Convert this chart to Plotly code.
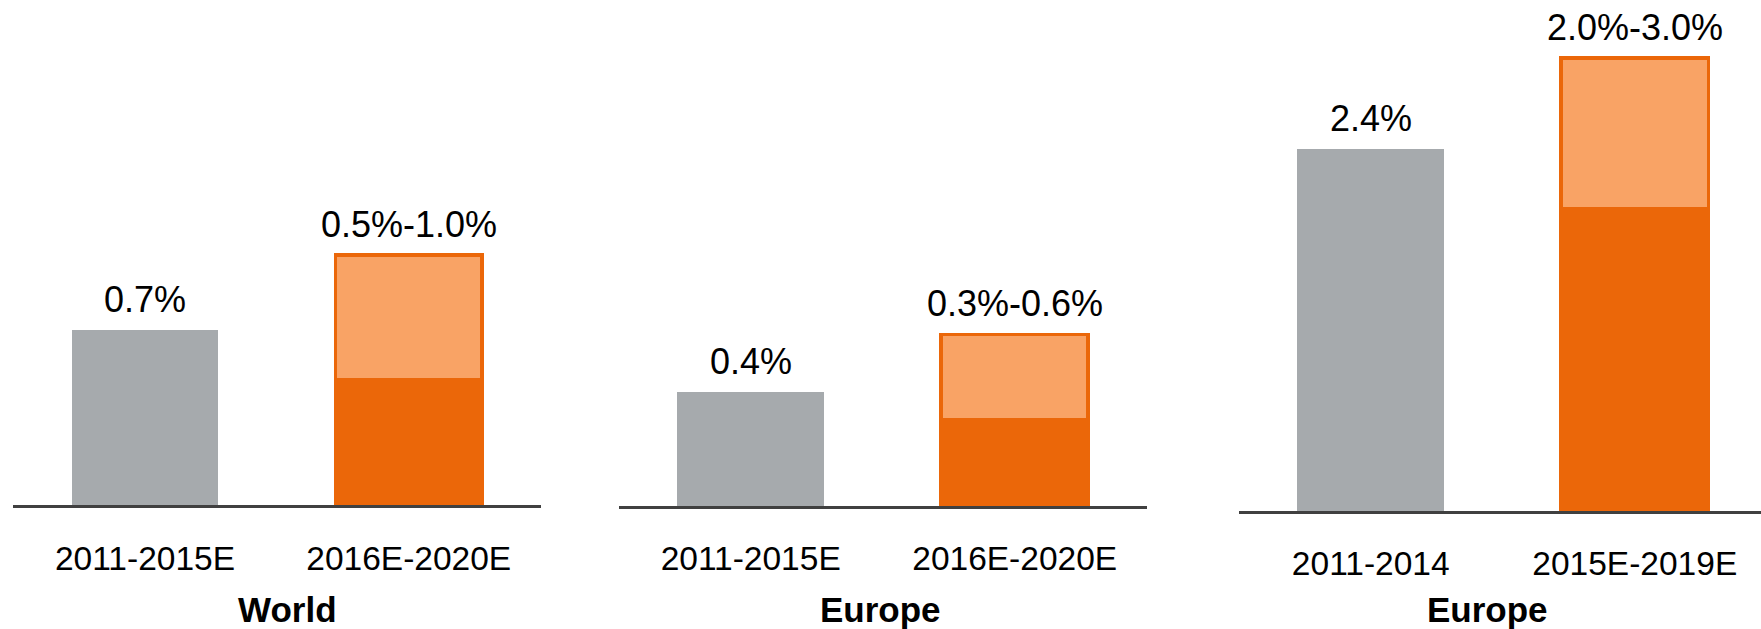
import plotly.graph_objects as go

# ---- data ----
panel_titles = ["World", "Europe", "Europe"]
categories = [
    ["2011-2015E", "2016E-2020E"],
    ["2011-2015E", "2016E-2020E"],
    ["2011-2014", "2015E-2019E"],
]
historic_values = [0.7, 0.4, 2.4]
forecast_low = [0.5, 0.3, 2.0]
forecast_high = [1.0, 0.6, 3.0]
historic_labels = ["0.7%", "0.4%", "2.4%"]
forecast_labels = ["0.5%-1.0%", "0.3%-0.6%", "2.0%-3.0%"]

# ---- style ----
W, H = 1761, 629
FONT = "Liberation Sans, Arial, sans-serif"
GREY = "#A6AAAD"
DARK_OR = "#EB6709"
LIGHT_OR = "#F9A365"
AXIS = "#404040"

x_domains = [(13.1 / W, 540.6 / W), (618.7 / W, 1146.7 / W), (1238.7 / W, 1.0)]
x_ranges = [[-0.5, 1.5], [-0.5, 1.5], [-0.5, 1.478]]
y_bottom_px = [505.3, 506.0, 511.0]
px_per_unit = [250.5, 286.0, 151.0]
title_x_px = [287.5, 881.0, 1487.0]
BAR_W = 0.557

fig = go.Figure()
layout = dict(
    width=W, height=H,
    margin=dict(l=0, r=0, t=0, b=0),
    paper_bgcolor="white", plot_bgcolor="white",
    barmode="stack", showlegend=False,
    font=dict(family=FONT, color="black"),
    annotations=[],
)

for i in range(3):
    xa = "x" if i == 0 else f"x{i+1}"
    ya = "y" if i == 0 else f"y{i+1}"
    cats = categories[i]
    fig.add_trace(go.Bar(
        x=[cats[0]], y=[historic_values[i]], xaxis=xa, yaxis=ya,
        marker=dict(color=GREY, line=dict(width=0)), width=BAR_W,
        hoverinfo="skip",
    ))
    fig.add_trace(go.Bar(
        x=[cats[1]], y=[forecast_low[i]], xaxis=xa, yaxis=ya,
        marker=dict(color=DARK_OR, line=dict(width=3.5, color=DARK_OR)), width=BAR_W,
        hoverinfo="skip",
    ))
    fig.add_trace(go.Bar(
        x=[cats[1]], y=[forecast_high[i] - forecast_low[i]], xaxis=xa, yaxis=ya,
        marker=dict(color=LIGHT_OR, line=dict(width=3.5, color=DARK_OR)), width=BAR_W,
        hoverinfo="skip",
    ))
    ybot = y_bottom_px[i]
    ytop_val = ybot / px_per_unit[i]
    xkey = "xaxis" if i == 0 else f"xaxis{i+1}"
    ykey = "yaxis" if i == 0 else f"yaxis{i+1}"
    layout[xkey] = dict(
        domain=list(x_domains[i]), range=x_ranges[i], anchor=ya,
        type="category", categoryorder="array", categoryarray=cats,
        showline=True, linecolor=AXIS, linewidth=3,
        ticks="outside", ticklen=21, tickcolor="rgba(0,0,0,0)",
        tickfont=dict(size=33.5, family=FONT, color="black"),
        showgrid=False, zeroline=False, fixedrange=True,
    )
    layout[ykey] = dict(
        domain=[(H - ybot) / H, 1.0], range=[0, ytop_val], anchor=xa,
        visible=False, showgrid=False, zeroline=False, fixedrange=True,
    )
    # value labels
    for cat, val, lab in [(cats[0], historic_values[i], historic_labels[i]),
                          (cats[1], forecast_high[i], forecast_labels[i])]:
        layout["annotations"].append(dict(
            x=cat, y=val, xref=xa, yref=ya, text=lab, showarrow=False,
            yanchor="bottom", xanchor="center", yshift=8,
            font=dict(size=36, family=FONT, color="black"),
        ))
    # panel title
    layout["annotations"].append(dict(
        x=title_x_px[i] / W, y=0, xref="paper", yref="paper",
        text=f"<b>{panel_titles[i]}</b>", showarrow=False,
        yanchor="bottom", xanchor="center", yshift=-2,
        font=dict(size=35, family=FONT, color="black"),
    ))

fig.update_layout(**layout)
fig.write_html(
    "out.html",
    config={"displayModeBar": False},
    post_script="document.body.style.margin='0';document.body.style.overflow='hidden';",
)
